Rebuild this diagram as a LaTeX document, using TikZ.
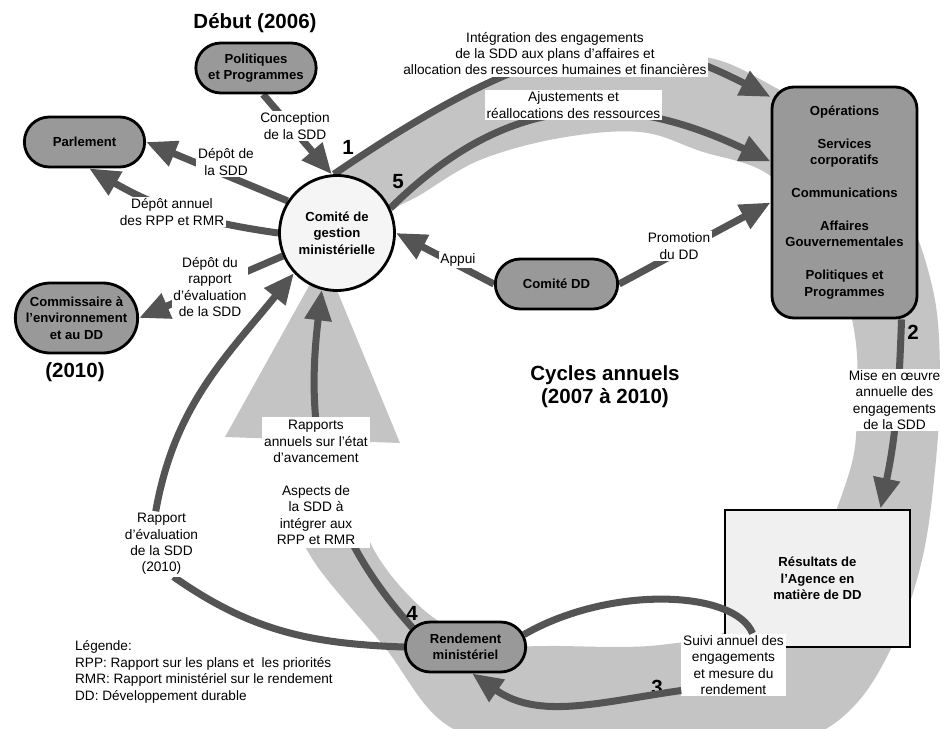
\documentclass[tikz,border=0pt]{standalone}
\usepackage{fontspec}
\setmainfont{Liberation Sans}
\usetikzlibrary{positioning,arrows.meta,shapes.misc,backgrounds}

\definecolor{bandgray}{gray}{0.77}
\definecolor{nodegray}{gray}{0.60}
\definecolor{arrowgray}{gray}{0.33}
\definecolor{circlefill}{gray}{0.96}
\definecolor{boxfill}{gray}{0.94}

\begin{document}
\begin{tikzpicture}[x=0.03cm, y=0.03cm, >={Triangle[length=26pt,width=22pt]}]

  % Styles des noeuds et des fleches
  \tikzset{
    pill/.style={rounded rectangle, draw=black, line width=2.4pt, fill=nodegray,
      align=center, inner sep=2pt, font=\bfseries\fontsize{11.2}{14}\selectfont},
    lbl/.style={fill=white, align=center, inner sep=1.5pt,
      font=\fontsize{11.7}{14}\selectfont},
    title/.style={align=center, font=\bfseries\fontsize{17.5}{19.6}\selectfont},
    num/.style={font=\bfseries\fontsize{17.5}{20}\selectfont},
    flow/.style={->, line width=6pt, draw=arrowgray},
    link/.style={line width=6pt, draw=arrowgray}
  }

  \useasboundingbox (0,0) rectangle (948,-729);

  % Titres
  \node[title] (debut)  at (255,-23)  {Début (2006)};
  \node[title] (cycles) at (605,-387) {Cycles annuels\\(2007 à 2010)};
  \node[title] (fin)    at (75,-372)  {(2010)};

  % Noeuds principaux
  \node[pill, minimum width=3.75cm, minimum height=1.5cm] (pp) at (256,-68) {Politiques\\et Programmes};
  \node[pill, minimum width=3.75cm, minimum height=1.5cm] (parl) at (84.5,-142) {Parlement};
  \node[pill, minimum width=3.81cm, minimum height=2.1cm] (comm) at (76.5,-318) {Commissaire à\\l'environnement\\et au DD};
  \node[circle, draw=black, line width=2.4pt, fill=circlefill, minimum size=3.45cm,
    align=center, inner sep=0pt, font=\bfseries\fontsize{11.2}{14}\selectfont] (cgm) at (337,-233) {Comité de\\gestion\\ministérielle};
  \node[pill, minimum width=3.81cm, minimum height=1.5cm] (cdd) at (556.5,-284) {Comité DD};
  \node[draw=black, line width=2.4pt, fill=nodegray, rounded corners=0.66cm,
    minimum width=4.35cm, minimum height=6.93cm, align=center,
    font=\bfseries\fontsize{11.2}{14}\selectfont] (ops) at (844.5,-202.5)
    {Opérations\\[14pt]Services\\corporatifs\\[14pt]Communications\\[14pt]Affaires\\Gouvernementales\\[14pt]Politiques et\\Programmes};
  \node[draw=black, line width=2.4pt, fill=boxfill, minimum width=5.55cm, minimum height=4.11cm,
    align=center, font=\bfseries\fontsize{11.2}{14}\selectfont] (res) at (817.5,-578.5) {Résultats de\\l'Agence en\\matière de DD};
  \node[pill, minimum width=3.75cm, minimum height=1.5cm] (rm) at (465.5,-647) {Rendement\\ministériel};

  % Etiquettes des fleches
  \node[lbl] (integ) at (555,-53.5) {Intégration des engagements\\de la SDD aux plans d'affaires et\\allocation des ressources humaines et financières};
  \node[lbl, minimum width=5.3cm] (ajust) at (573.5,-105) {Ajustements et\\réallocations des ressources};
  \node[lbl] (conc)  at (295,-126)   {Conception\\de la SDD};
  \node[lbl] (dep1)  at (226,-162)   {Dépôt de\\la SDD};
  \node[lbl] (dep2)  at (172,-212)   {Dépôt annuel\\des RPP et RMR};
  \node[lbl] (dep3)  at (210,-287)   {Dépôt du\\rapport\\d'évaluation\\de la SDD};
  \node[lbl] (appui) at (458,-260)   {Appui};
  \node[lbl] (promo) at (679,-246)   {Promotion\\du DD};
  \node[lbl] (mise)  at (894.5,-400) {Mise en œuvre\\annuelle des\\engagements\\de la SDD};
  \node[lbl] (suivi) at (733.5,-665) {Suivi annuel des\\engagements\\et mesure du\\rendement};
  \node[lbl, minimum width=3.15cm, minimum height=3.93cm] (rpt) at (316,-482.5)
    {Rapports\\annuels sur l'état\\d'avancement\\[14pt]Aspects de\\la SDD à\\intégrer aux\\RPP et RMR};
  \node[lbl] (rev)   at (161.5,-544) {Rapport\\d'évaluation\\de la SDD\\(2010)};

  % Numeros des etapes
  \node[num] (n1) at (348,-147) {1};
  \node[num] (n2) at (913,-332) {2};
  \node[num] (n3) at (657,-687) {3};
  \node[num] (n4) at (412,-613) {4};
  \node[num] (n5) at (398,-182) {5};

  % Legende
  \node[anchor=west, align=left, font=\fontsize{11.6}{14}\selectfont] (leg) at (71,-672)
    {Légende:\\RPP: Rapport sur les plans et~ les priorités\\RMR: Rapport ministériel sur le rendement\\DD: Développement durable};

  \begin{scope}[on background layer]
    % Grande bande du cycle annuel
    \fill[bandgray] plot[smooth, tension=0.6] coordinates {(300,-205) (333,-177) (400,-133) (480,-84) (560,-64) (640,-56) (710,-58) (767,-83) (840,-130) (900,-200) (933,-290) (940,-380) (935,-470) (922,-560) (895,-640) (855,-705) (800,-740) (700,-755) (560,-752) (450,-727) (383,-645) (313,-560) (290,-500) (282,-435)}
      -- plot[smooth, tension=0.6] coordinates {(345,-435) (355,-500) (380,-560) (430,-615) (487,-643) (560,-646) (660,-645) (740,-625) (810,-560) (850,-470) (857,-400) (854,-330) (830,-250) (772,-177) (700,-151) (640,-132) (560,-138) (480,-160) (420,-195) (393,-210) (360,-240)}
      -- cycle;
    \fill[bandgray] (225,-437) -- (324,-259) -- (400,-443) -- cycle;

    % Fleches
    \draw[flow] (pp.-75) -- (cgm.95);
    \draw[flow] (cgm.147) -- (parl.east);
    \draw[flow] (cgm.west) to[out=172, in=-30] (parl.-80);
    \draw[flow] (cgm.203) -- (comm.east);
    \draw[flow] (cdd.west) -- (cgm.east);
    \draw[flow] (cdd.east) -- (ops.west);
    \draw[flow] (cgm.93) .. controls (560,-20) and (640,-30) .. (ops.125);
    \draw[flow] (cgm.25) .. controls (500,-100) and (610,-85) .. (ops.151);
    \draw[flow] (ops.-64) to[out=-92, in=78] (res.48);
    \draw[flow] (rm.160) .. controls (320,-525) and (305,-427) .. (cgm.-105);
    \draw[link] (rm.west) to[out=178, in=-35] (rev.-70);
    \draw[flow] (rev.100) to[out=80, in=231] (cgm.223);
  \end{scope}

  % Suivi annuel (boucle 3)
  \draw[link] (rm.12) .. controls (610,-585) and (735,-590) .. (suivi.59);
  \draw[flow] (suivi.206) to[out=188, in=-35] (rm.-76);

\end{tikzpicture}
\end{document}
